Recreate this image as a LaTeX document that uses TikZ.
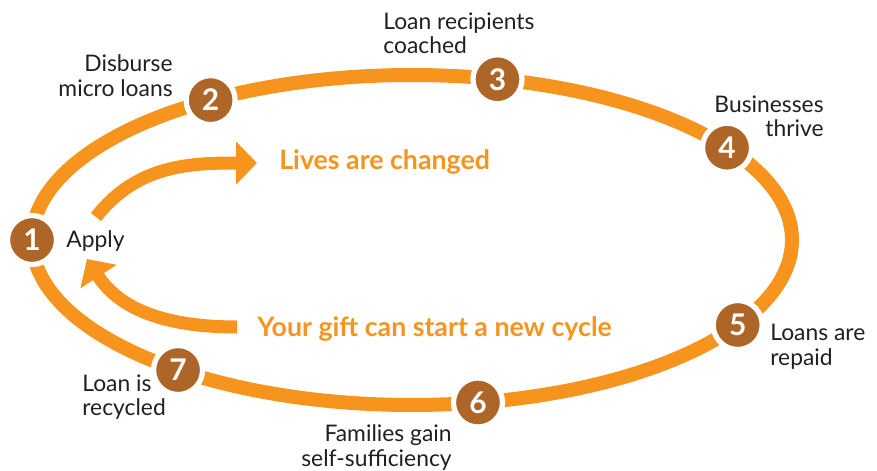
\documentclass[tikz,border=0pt]{standalone}
\usepackage{fontspec}
\setmainfont{Lato}
\usetikzlibrary{arrows.meta,calc}
\definecolor{ringorange}{HTML}{F7941D}
\definecolor{stepbrown}{HTML}{AD6528}
\definecolor{textgray}{HTML}{231F20}

\begin{document}
\begin{tikzpicture}[ring/.style={draw=ringorange,line width=0.28cm},step node/.style={circle,fill=stepbrown,draw=white,line width=3pt,minimum size=0.98cm,inner sep=0pt,text=white,font=\fontsize{17}{17}\selectfont\bfseries},label node/.style={inner sep=0pt,text=textgray,font=\fontsize{13}{14.2}\selectfont},call node/.style={inner sep=0pt,text=ringorange,font=\fontsize{15.2}{17}\selectfont\bfseries},big arrow/.style={draw=ringorange,line width=0.26cm,-{Triangle[length=0.42cm,width=0.84cm]}}]
            \useasboundingbox (0,0) rectangle (17.54,9.4);

            % the cycle
            \coordinate (c) at (8.24,4.6);
            \draw[ring] (c) ellipse [x radius=7.6, y radius=3.3];

            \node[step node] (1) at ($(c)+(180:7.6 and 3.3)$) {1};
            \node[step node] (2) at ($(c)+(122:7.6 and 3.3)$) {2};
            \node[step node] (3) at ($(c)+(77:7.6 and 3.3)$) {3};
            \node[step node] (4) at ($(c)+(34:7.6 and 3.3)$) {4};
            \node[step node] (5) at ($(c)+(-31:7.6 and 3.3)$) {5};
            \node[step node] (6) at ($(c)+(-80:7.6 and 3.3)$) {6};
            \node[step node] (7) at ($(c)+(-128:7.6 and 3.3)$) {7};

            \node[label node,anchor=base west] (apply) at (1.32,4.46) {Apply};
            \node[label node,anchor=north east,align=right] (disburse) at (3.46,8.32) {Disburse\\micro loans};
            \node[label node,anchor=north west,align=left] (coached) at (7.66,9.16) {Loan recipients\\coached};
            \node[label node,anchor=north east,align=right] (thrive) at (16.48,7.5) {Businesses\\thrive};
            \node[label node,anchor=north west,align=left] (repaid) at (15.4,2.92) {Loans are\\repaid};
            \node[label node,anchor=north west,align=left] (recycled) at (1.64,1.92) {Loan is\\recycled};
            \node[label node,anchor=north east,align=right] (families) at (9.04,0.92) {Families gain\\self-sufficiency};

            % inner arrows
            \node[call node,anchor=base west] (lives) at (5.58,6.02) {Lives are changed};
            \node[call node,anchor=base west] (gift) at (5.14,2.68) {Your gift can start a new cycle};

            \coordinate (up tail) at (1.92,5.06);
            \coordinate (up tip) at (5.14,6.14);
            \coordinate (low tail) at (4.74,2.86);
            \coordinate (low tip) at (1.74,4.22);

            \draw[big arrow] (up tail) to[out=52,in=180] (up tip);
            \draw[big arrow] (low tail) to[out=180,in=-57] (low tip);
        \end{tikzpicture}
\end{document}
